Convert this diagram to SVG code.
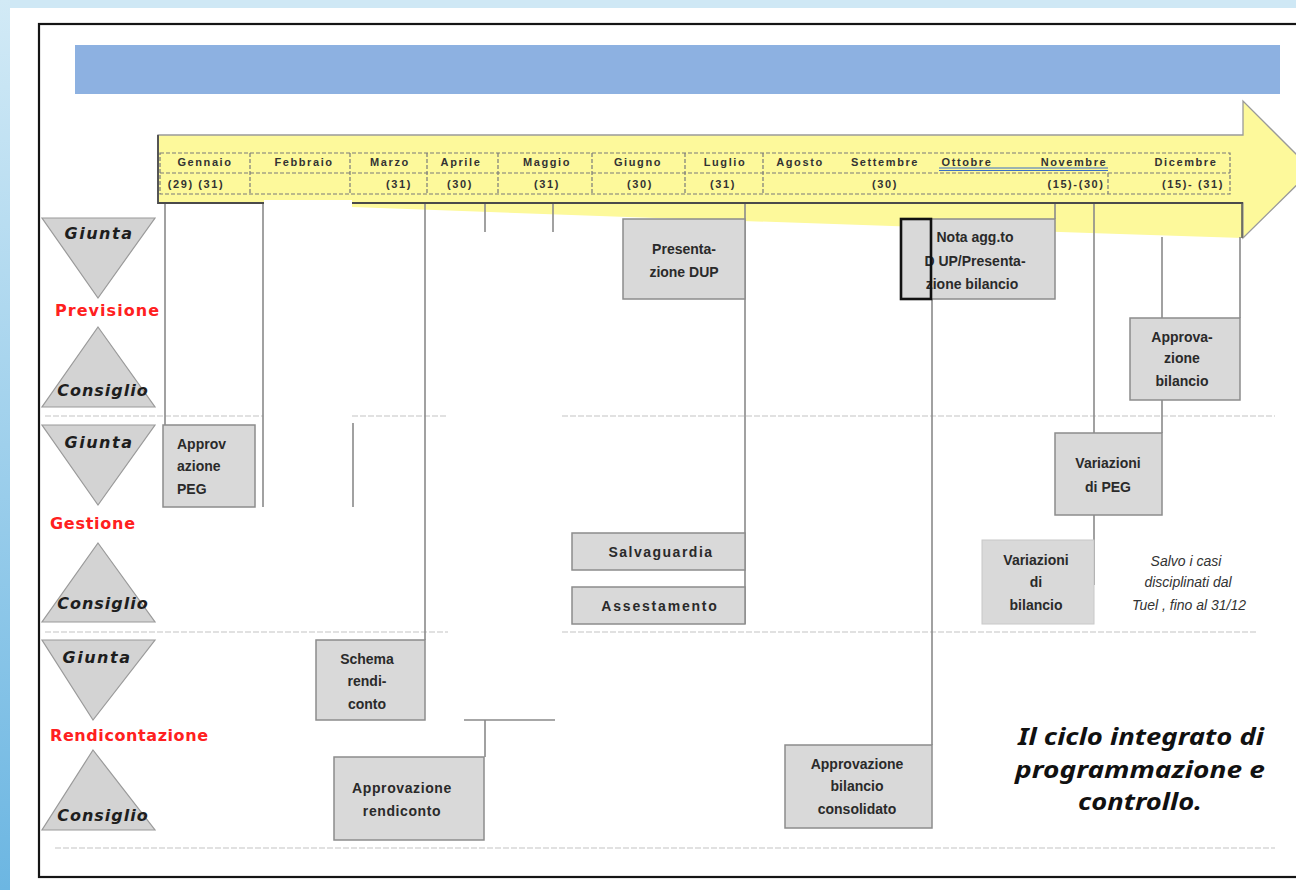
<svg xmlns="http://www.w3.org/2000/svg" width="1296" height="890" viewBox="0 0 1296 890">
<defs>
<linearGradient id="side" x1="0" y1="0" x2="0" y2="1">
<stop offset="0" stop-color="#d2eaf6"/>
<stop offset="1" stop-color="#6cb6e2"/>
</linearGradient>
<style>
.box{fill:#d9d9d9;stroke:#8c8c8c;stroke-width:1.5}
.bt{font-family:"Liberation Sans",Arial,sans-serif;font-weight:bold;font-size:14px;fill:#2a2a2a;text-anchor:middle}
.mt{font-family:"Liberation Sans",Arial,sans-serif;font-weight:bold;font-size:11px;fill:#333;letter-spacing:1.6px;text-anchor:middle}
.dash{fill:none;stroke:#7a7a7a;stroke-width:1.2;stroke-dasharray:4 2}
.conn{stroke:#8a8a8a;stroke-width:1.6;fill:none}
.dot{stroke:#c4c4c4;stroke-width:1.2;stroke-dasharray:6 2}
.tri{fill:#d3d3d3;stroke:#9a9a9a;stroke-width:1.2}
.role{font-family:"DejaVu Sans",Verdana,sans-serif;font-weight:bold;font-style:italic;font-size:16px;fill:#1e1e1e;text-anchor:middle}
.phase{font-family:"DejaVu Sans",Verdana,sans-serif;font-weight:bold;font-size:16px;fill:#ff2020}
.title{font-family:"Noto Sans","Open Sans",sans-serif;font-style:italic;font-weight:bold;font-size:24px;fill:#111;text-anchor:middle}
</style>
</defs>
<rect x="0" y="0" width="1296" height="890" fill="#ffffff"/>
<rect x="0" y="0" width="1296" height="8" fill="#cfe8f5"/>
<rect x="0" y="0" width="10" height="890" fill="url(#side)"/>
<rect x="39" y="24" width="1275" height="853" fill="#ffffff" stroke="#151515" stroke-width="2.2"/>

<g id="header-bar"><rect x="75" y="45" width="1205" height="49" fill="#8db1e1"/></g>

<g id="timeline-arrow">
<path d="M352,203 L1243,203 L1243,238 Q820,224 352,207 Z" fill="#fdf99b"/>
<polygon points="158,135 1243,135 1243,101 1312,170 1243,238 1243,203 158,203" fill="#fdf99b" stroke="#9a9a9a" stroke-width="1.3"/>
<line x1="158" y1="135" x2="158" y2="204" stroke="#555" stroke-width="2"/>
<line x1="158" y1="203" x2="265" y2="203" stroke="#4a4a4a" stroke-width="2.2"/>
<line x1="352" y1="203" x2="1243" y2="203" stroke="#4a4a4a" stroke-width="2.2"/>
<line x1="1242" y1="203" x2="1242" y2="238" stroke="#555" stroke-width="1.5"/>
<rect x="264" y="200" width="88" height="12" fill="#ffffff"/>
</g>

<g id="months">
<rect class="dash" x="160" y="153" width="1070" height="41"/>
<line class="dash" x1="160" y1="173" x2="1230" y2="173"/>
<line class="dash" x1="250" y1="153" x2="250" y2="194"/>
<line class="dash" x1="350" y1="153" x2="350" y2="194"/>
<line class="dash" x1="427" y1="153" x2="427" y2="194"/>
<line class="dash" x1="498" y1="153" x2="498" y2="194"/>
<line class="dash" x1="592" y1="153" x2="592" y2="194"/>
<line class="dash" x1="685" y1="153" x2="685" y2="194"/>
<line class="dash" x1="763" y1="153" x2="763" y2="194"/>
<line class="dash" x1="1108" y1="173" x2="1108" y2="194"/>
<text class="mt" x="205" y="166">Gennaio</text>
<text class="mt" x="304" y="166">Febbraio</text>
<text class="mt" x="390" y="166">Marzo</text>
<text class="mt" x="461" y="166">Aprile</text>
<text class="mt" x="547" y="166">Maggio</text>
<text class="mt" x="638" y="166">Giugno</text>
<text class="mt" x="725" y="166">Luglio</text>
<text class="mt" x="800" y="166">Agosto</text>
<text class="mt" x="885" y="166">Settembre</text>
<text class="mt" x="967" y="166" fill="#2b5fb0">Ottobre</text>
<text class="mt" x="1074" y="166" fill="#2b5fb0">Novembre</text>
<line x1="939" y1="168" x2="1108" y2="168" stroke="#3a6fc4" stroke-width="1.2"/>
<line x1="939" y1="170.5" x2="1108" y2="170.5" stroke="#3a6fc4" stroke-width="1.2"/>
<text class="mt" x="1186" y="166">Dicembre</text>
<text class="mt" x="196" y="188">(29) (31)</text>
<text class="mt" x="399" y="188">(31)</text>
<text class="mt" x="460" y="188">(30)</text>
<text class="mt" x="547" y="188">(31)</text>
<text class="mt" x="640" y="188">(30)</text>
<text class="mt" x="723" y="188">(31)</text>
<text class="mt" x="885" y="188">(30)</text>
<text class="mt" x="1076" y="188">(15)-(30)</text>
<text class="mt" x="1193" y="188">(15)- (31)</text>
</g>

<g id="separators">
<line class="dot" x1="45" y1="416" x2="263" y2="416"/>
<line class="dot" x1="352" y1="416" x2="448" y2="416"/>
<line class="dot" x1="562" y1="416" x2="1275" y2="416"/>
<line class="dot" x1="45" y1="632" x2="448" y2="632"/>
<line class="dot" x1="562" y1="632" x2="1258" y2="632"/>
<line class="dot" x1="55" y1="848" x2="1275" y2="848"/>
</g>

<g id="connectors">
<line class="conn" x1="165" y1="204" x2="165" y2="425"/>
<line class="conn" x1="263" y1="204" x2="263" y2="507"/>
<line class="conn" x1="353" y1="423" x2="353" y2="507"/>
<line class="conn" x1="425" y1="204" x2="425" y2="640"/>
<line class="conn" x1="485" y1="204" x2="485" y2="232"/>
<line class="conn" x1="553" y1="204" x2="553" y2="232"/>
<line class="conn" x1="464" y1="720" x2="555" y2="720"/>
<line class="conn" x1="485" y1="720" x2="485" y2="757"/>
<line class="conn" x1="745" y1="204" x2="745" y2="624"/>
<line class="conn" x1="932" y1="299" x2="932" y2="745"/>
<line class="conn" x1="1055" y1="204" x2="1055" y2="219"/>
<line class="conn" x1="1094" y1="204" x2="1094" y2="433"/>
<line class="conn" x1="1094" y1="515" x2="1094" y2="585"/>
<line class="conn" x1="1162" y1="237" x2="1162" y2="318"/>
<line class="conn" x1="1162" y1="400" x2="1162" y2="433"/>
<line class="conn" x1="1240" y1="237" x2="1240" y2="318"/>
</g>

<g id="previsione">
<polygon class="tri" points="42,218 155,218 98,298"/>
<polygon class="tri" points="98,327 155,407 42,407"/>
<text class="role" x="99" y="239" letter-spacing="1.5">Giunta</text>
<text class="phase" x="55" y="316" textLength="104">Previsione</text>
<text class="role" x="103" y="396" letter-spacing="1">Consiglio</text>
</g>
<g id="gestione">
<polygon class="tri" points="42,425 155,425 98,505"/>
<polygon class="tri" points="98,543 155,622 42,622"/>
<text class="role" x="99" y="448" letter-spacing="1.5">Giunta</text>
<text class="phase" x="50" y="529" textLength="85">Gestione</text>
<text class="role" x="103" y="609" letter-spacing="1">Consiglio</text>
</g>
<g id="rendicontazione">
<polygon class="tri" points="42,640 155,640 93,720"/>
<polygon class="tri" points="93,750 155,830 42,830"/>
<text class="role" x="97" y="663" letter-spacing="1.5">Giunta</text>
<text class="phase" x="50" y="741" textLength="158">Rendicontazione</text>
<text class="role" x="103" y="821" letter-spacing="1">Consiglio</text>
</g>

<g id="approvazione-peg">
<rect class="box" x="163" y="425" width="92" height="82"/>
<text class="bt" x="177" y="449" style="text-anchor:start">Approv</text>
<text class="bt" x="177" y="471" style="text-anchor:start">azione</text>
<text class="bt" x="177" y="494" style="text-anchor:start">PEG</text>
</g>
<g id="presentazione-dup">
<rect class="box" x="623" y="219" width="122" height="80"/>
<text class="bt" x="684" y="254">Presenta-</text>
<text class="bt" x="684" y="277">zione DUP</text>
</g>
<g id="nota-aggiornamento">
<rect class="box" x="901" y="219" width="154" height="80"/>
<text class="bt" x="975" y="242">Nota agg.to</text>
<text class="bt" x="975" y="266">D UP/Presenta-</text>
<text class="bt" x="972" y="289">zione bilancio</text>
<rect x="901" y="219" width="30" height="80" fill="none" stroke="#111" stroke-width="2.6"/>
</g>
<g id="approvazione-bilancio">
<rect class="box" x="1130" y="318" width="110" height="82"/>
<text class="bt" x="1182" y="342">Approva-</text>
<text class="bt" x="1182" y="363">zione</text>
<text class="bt" x="1182" y="386">bilancio</text>
</g>
<g id="variazioni-peg">
<rect class="box" x="1055" y="433" width="107" height="82"/>
<text class="bt" x="1108" y="468">Variazioni</text>
<text class="bt" x="1108" y="492">di PEG</text>
</g>
<g id="variazioni-bilancio">
<rect x="982" y="540" width="112" height="84" fill="#d9d9d9" stroke="#c8c8c8" stroke-width="1"/>
<text class="bt" x="1036" y="565">Variazioni</text>
<text class="bt" x="1036" y="587">di</text>
<text class="bt" x="1036" y="610">bilancio</text>
</g>
<g id="salvaguardia">
<rect class="box" x="572" y="533" width="173" height="37"/>
<text class="bt" x="661" y="557" letter-spacing="1.5">Salvaguardia</text>
</g>
<g id="assestamento">
<rect class="box" x="572" y="587" width="173" height="37"/>
<text class="bt" x="660" y="611" letter-spacing="1.8">Assestamento</text>
</g>
<g id="schema-rendiconto">
<rect class="box" x="316" y="640" width="109" height="80"/>
<text class="bt" x="367" y="664">Schema</text>
<text class="bt" x="367" y="686">rendi-</text>
<text class="bt" x="367" y="709">conto</text>
</g>
<g id="approvazione-rendiconto">
<rect class="box" x="334" y="757" width="150" height="83"/>
<text class="bt" x="402" y="793" letter-spacing="0.6">Approvazione</text>
<text class="bt" x="402" y="816" letter-spacing="0.6">rendiconto</text>
</g>
<g id="approvazione-consolidato">
<rect class="box" x="785" y="745" width="147" height="83"/>
<text class="bt" x="857" y="769">Approvazione</text>
<text class="bt" x="857" y="791">bilancio</text>
<text class="bt" x="857" y="814">consolidato</text>
</g>

<g id="nota-tuel" font-family="'Liberation Sans',Arial,sans-serif" font-style="italic" font-size="14" fill="#333" text-anchor="middle">
<text x="1186" y="566">Salvo i casi</text>
<text x="1188" y="587">disciplinati  dal</text>
<text x="1189" y="610">Tuel , fino al 31/12</text>
</g>

<g id="titolo">
<text class="title" x="1141" y="745" textLength="246" lengthAdjust="spacingAndGlyphs">Il ciclo integrato di</text>
<text class="title" x="1140" y="778" textLength="250" lengthAdjust="spacingAndGlyphs">programmazione e</text>
<text class="title" x="1140" y="810" textLength="124" lengthAdjust="spacingAndGlyphs">controllo.</text>
</g>
</svg>
